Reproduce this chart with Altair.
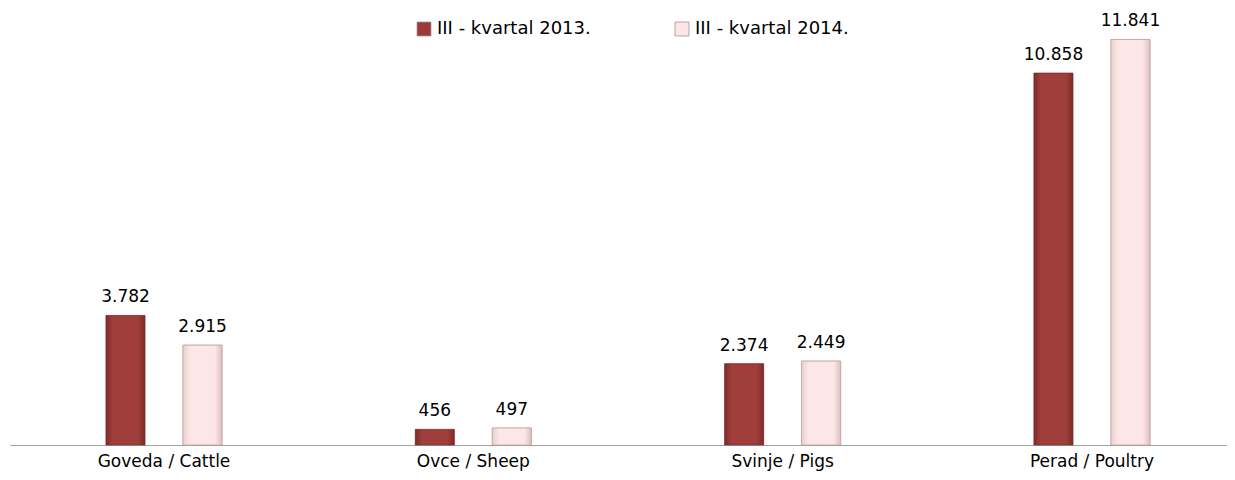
import altair as alt
import pandas as pd

categories = ["Goveda / Cattle", "Ovce / Sheep", "Svinje / Pigs", "Perad / Poultry"]
series = ["III - kvartal 2013.", "III - kvartal 2014."]
values_2013 = [3782, 456, 2374, 10858]
values_2014 = [2915, 497, 2449, 11841]
labels_2013 = ["3.782", "456", "2.374", "10.858"]
labels_2014 = ["2.915", "497", "2.449", "11.841"]

rows = []
for c, v, l in zip(categories, values_2013, labels_2013):
    rows.append({"cat": c, "series": series[0], "value": v, "label": l})
for c, v, l in zip(categories, values_2014, labels_2014):
    rows.append({"cat": c, "series": series[1], "value": v, "label": l})
df = pd.DataFrame(rows)

FONT = "DejaVu Sans"
RED = "#9c3a38"
PINK = "#fde5e5"

xscale = alt.Scale(domain=categories, paddingInner=0.5, paddingOuter=0.2172, align=0.5705)
oscale = alt.Scale(domain=series, paddingInner=0.4935, paddingOuter=0.251)
yscale = alt.Scale(domain=[0, 12701])

x = alt.X("cat:N", sort=categories, title=None, scale=xscale,
          axis=alt.Axis(labelAngle=0, ticks=False, tickSize=0, domainColor="#a0a0a0",
                        domainWidth=1.2, labelFontSize=17, labelFont=FONT,
                        labelColor="#000000", labelPadding=8, grid=False))
xo = alt.XOffset("series:N", sort=series, scale=oscale)
y = alt.Y("value:Q", scale=yscale, axis=None)

color = alt.Color("series:N", sort=series,
                  scale=alt.Scale(domain=series, range=[RED, PINK]),
                  legend=alt.Legend(title=None, orient="none", direction="horizontal",
                                    legendX=405, legendY=10, symbolType="square",
                                    symbolSize=196, symbolStrokeColor="#999999",
                                    symbolStrokeWidth=0.8, labelFont=FONT,
                                    labelFontSize=18, labelColor="#000000",
                                    columnPadding=82, labelOffset=4))

red_grad = alt.Gradient(gradient="linear", x1=0, x2=1, y1=0, y2=0, stops=[
    alt.GradientStop(color="#7e2b29", offset=0),
    alt.GradientStop(color="#a03e3c", offset=0.18),
    alt.GradientStop(color="#a03e3c", offset=0.82),
    alt.GradientStop(color="#7e2b29", offset=1)])
pink_grad = alt.Gradient(gradient="linear", x1=0, x2=1, y1=0, y2=0, stops=[
    alt.GradientStop(color="#ead0d0", offset=0),
    alt.GradientStop(color="#fde6e6", offset=0.18),
    alt.GradientStop(color="#fde6e6", offset=0.82),
    alt.GradientStop(color="#dcc0c0", offset=1)])

base = alt.Chart(df)

bars = base.mark_bar(stroke="#b09090", strokeWidth=0.6).encode(
    x=x, xOffset=xo, y=y, color=color
)
bars_red = base.transform_filter(alt.datum.series == series[0]).mark_bar(
    color=red_grad, stroke="#7a2a28", strokeWidth=0.6).encode(
    x=alt.X("cat:N", sort=categories, scale=xscale),
    xOffset=alt.XOffset("series:N", sort=series, scale=oscale),
    y=alt.Y("value:Q", scale=yscale))
bars_pink = base.transform_filter(alt.datum.series == series[1]).mark_bar(
    color=pink_grad, stroke="#c2a6a6", strokeWidth=0.8).encode(
    x=alt.X("cat:N", sort=categories, scale=xscale),
    xOffset=alt.XOffset("series:N", sort=series, scale=oscale),
    y=alt.Y("value:Q", scale=yscale))

text = base.mark_text(dy=-13, fontSize=17, font=FONT, color="#000000",
                      baseline="alphabetic").encode(
    x=alt.X("cat:N", sort=categories, scale=xscale),
    xOffset=alt.XOffset("series:N", sort=series, scale=oscale),
    y=alt.Y("value:Q", scale=yscale), text="label:N"
)

chart = (bars + bars_red + bars_pink + text).properties(
    width=1217, height=435,
    autosize=alt.AutoSizeParams(type="none"),
    padding={"left": 2, "top": 2, "right": 0, "bottom": 27}
).configure_view(stroke=None).configure_legend(padding=0)

chart.save("out.html", embed_options={"renderer": "svg", "actions": False})
